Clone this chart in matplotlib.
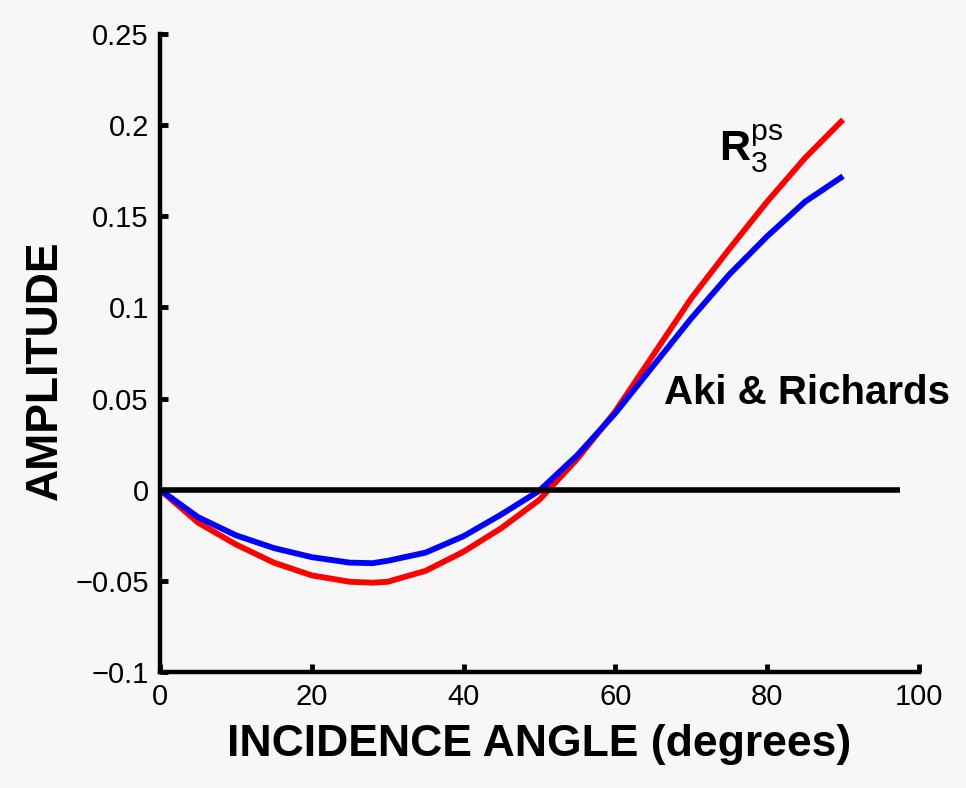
import matplotlib
matplotlib.use('Agg')
import matplotlib.pyplot as plt

plt.rcParams['font.family'] = ['Liberation Sans', 'DejaVu Sans']
plt.rcParams['mathtext.fontset'] = 'custom'
plt.rcParams['mathtext.rm'] = 'Liberation Sans'
plt.rcParams['mathtext.bf'] = 'Liberation Sans:bold'

# incidence angles (degrees)
angle = [0, 5, 10, 15, 20, 25, 28, 30, 35, 40, 45, 50, 55, 60, 65, 70, 75, 80, 85, 90]
# R3 ps (red)
r3_ps = [0, -0.018, -0.030, -0.040, -0.047, -0.0505, -0.051, -0.0505, -0.0445, -0.034,
         -0.021, -0.0055, 0.017, 0.043, 0.074, 0.105, 0.132, 0.158, 0.182, 0.203]
# Aki & Richards (blue)
aki = [0, -0.015, -0.025, -0.032, -0.037, -0.040, -0.0403, -0.039, -0.0345, -0.0255,
       -0.0135, -0.0005, 0.019, 0.042, 0.068, 0.094, 0.118, 0.139, 0.158, 0.172]

yticks = [-0.1, -0.05, 0, 0.05, 0.1, 0.15, 0.2, 0.25]
ytick_labels = ['\u22120.1', '\u22120.05', '0', '0.05', '0.1', '0.15', '0.2', '0.25']
xticks = [0, 20, 40, 60, 80, 100]

bg = '#f7f7f7'
fig = plt.figure(figsize=(9.66, 7.88), dpi=100, facecolor=bg)
ax = fig.add_axes([0.1656, 0.1472, 0.7857, 0.8097], facecolor=bg)

ax.plot(angle, r3_ps, color='#ff0000', lw=4.2, solid_capstyle='butt')
ax.plot(angle, aki, color='#0000ff', lw=4.2, solid_capstyle='butt')
# zero line
ax.hlines(0, 0, 97.5, color='black', lw=4)

ax.set_xlim(0, 100)
ax.set_ylim(-0.1, 0.25)
ax.set_xticks(xticks)
ax.set_xticklabels([str(t) for t in xticks])
ax.set_yticks(yticks)
ax.set_yticklabels(ytick_labels)

for side in ['top', 'right']:
    ax.spines[side].set_visible(False)
for side in ['left', 'bottom']:
    ax.spines[side].set_linewidth(3.2)

ax.tick_params(direction='in', length=6, width=3.5, labelsize=21, pad=8)

ax.text(73.7, 0.180, r'$\mathbf{R}_{\mathrm{3}}^{\mathrm{ps}}$', fontsize=31,
        ha='left', va='baseline')
ax.text(66.4, 0.053, 'Aki & Richards', fontsize=29, fontweight='bold',
        ha='left', va='center')

fig.text(0.047, 0.53, 'AMPLITUDE', fontsize=32, fontweight='bold',
         rotation=90, ha='center', va='center')
fig.text(0.558, 0.055, 'INCIDENCE ANGLE (degrees)', fontsize=32, fontweight='bold',
         ha='center', va='center')

plt.savefig('out.png', dpi=100, facecolor=bg)
